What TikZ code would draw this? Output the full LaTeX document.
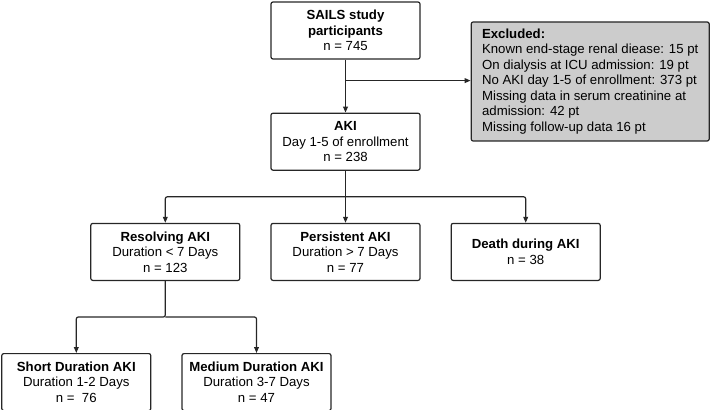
\documentclass[tikz,border=0pt]{standalone}
\usepackage{fontspec}
\setmainfont{Liberation Sans}
\usetikzlibrary{arrows.meta,positioning}
\definecolor{exclgray}{HTML}{CCCCCC}

\begin{document}
\begin{tikzpicture}[
    > = {Triangle[length=4.5pt,width=3.6pt]}, % arrow head style
    node distance = 22.5pt, % distance between boxes
    line width = 0.9pt, % line style
    font = \fontsize{9.9}{11.6}\selectfont
    ]

    \tikzset{box/.style={
    draw = black!85,
    rounded corners = 1.5pt,
    align = center,
    minimum width = 111.75pt,
    minimum height = 42.75pt,
    inner sep = 1pt
    }}
    \tikzset{excl/.style={
    box,
    fill = exclgray,
    align = left,
    minimum width = 178.5pt,
    minimum height = 89.25pt,
    inner sep = 1.5pt
    }}
    \tikzset{link/.style={->, draw = black!85, rounded corners = 1.5pt}}

    \useasboundingbox (0,0) rectangle (533.25pt,-307.5pt);

    \node[box] (sails) at (259.125pt,-22.875pt) {\textbf{SAILS study}\\\textbf{participants}\\n = 745};
    \node[box] (aki) [below=39.75pt of sails] {\textbf{AKI}\\Day 1-5 of enrollment\\n = 238};
    \node[excl] (excl) [below right=15pt and 37.5pt of sails.north east] {\textbf{Excluded:}\\Known end-stage renal diease: 15 pt\\On dialysis at ICU admission: 19 pt\\No AKI day 1-5 of enrollment: 373 pt\\Missing data in serum creatinine at\\admission: 42 pt\\Missing follow-up data 16 pt};
    \node[box] (per) [below=39pt of aki] {\textbf{Persistent AKI}\\Duration > 7 Days\\n = 77};
    \node[box] (res) [left=of per] {\textbf{Resolving AKI}\\Duration < 7 Days\\n = 123};
    \node[box] (death) [right=of per] {\textbf{Death during AKI}\\n = 38};
    \node[box] (short) [below=54pt of res, xshift=-66.75pt] {\textbf{Short Duration AKI}\\Duration 1-2 Days\\n = ~76};
    \node[box] (med) [right=of short] {\textbf{Medium Duration AKI}\\Duration 3-7 Days\\n = 47};

    \coordinate[below=15.75pt of sails] (exclsplit);
    \coordinate[below=19.5pt of aki] (akisplit);
    \coordinate[below=27pt of res] (ressplit);

    \draw[link] (sails) -- (aki);
    \draw[link] (exclsplit) -- (exclsplit -| excl.west);
    \draw[link] (aki) -- (per);
    \draw[link] (akisplit) -| (res);
    \draw[link] (akisplit) -| (death);
    \draw[link] (res) -- (ressplit) -| (short);
    \draw[link] (ressplit) -| (med);
\end{tikzpicture}
\end{document}
